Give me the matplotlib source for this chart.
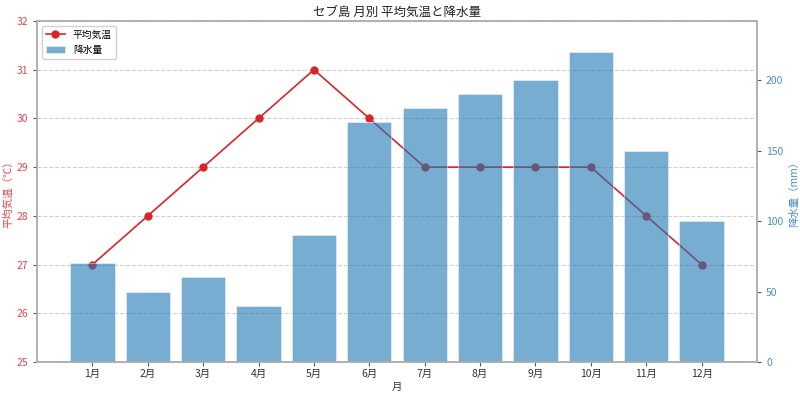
import matplotlib
matplotlib.use("Agg")
import matplotlib.pyplot as plt
import numpy as np

plt.rcParams['font.family'] = ['Noto Sans CJK JP', 'DejaVu Sans']

months = ['1月', '2月', '3月', '4月', '5月', '6月', '7月', '8月', '9月', '10月', '11月', '12月']
temp = [27, 28, 29, 30, 31, 30, 29, 29, 29, 29, 28, 27]
rain = [70, 50, 60, 40, 90, 170, 180, 190, 200, 220, 150, 100]

red = '#d62728'
blue = '#1f77b4'
spine_c = '#b0b0b0'

fig = plt.figure(figsize=(8, 3.97), dpi=100)
ax1 = fig.add_axes([37/800, 1-362/397, (757-37)/800, (362-21)/397])
x = np.arange(len(months))

l1, = ax1.plot(x, temp, color=red, marker='o', markersize=5, linewidth=1.2, label='平均気温')
ax1.set_ylim(25, 32)
ax1.set_xlim(-1, 12)
ax1.set_xticks(x)
ax1.set_xticklabels(months, fontsize=7.5, color='#333333')
ax1.set_xlabel('月', fontsize=7.5, color='#333333', labelpad=2)
ax1.set_ylabel('平均気温（℃）', fontsize=7.5, color='#e0474c', labelpad=2)
ax1.tick_params(axis='y', labelcolor='#e0474c', labelsize=7.5, color='#555555', length=3, width=0.8)
ax1.tick_params(axis='x', color='#555555', length=3, width=0.8, pad=2)
ax1.grid(axis='y', linestyle='--', color='#d0d0d0', linewidth=0.8)
ax1.set_axisbelow(True)

ax2 = ax1.twinx()
b = ax2.bar(x, rain, width=0.8, color=blue, alpha=0.6, edgecolor='white', linewidth=0.5, label='降水量')
ax2.set_ylim(0, max(rain) * 1.1)
ax2.set_ylabel('降水量（mm）', fontsize=7.5, color='#4a8cc2', labelpad=4)
ax2.tick_params(axis='y', labelcolor='#4a8cc2', labelsize=7.5, color='#555555', length=3, width=0.8)

for ax in (ax1, ax2):
    for s in ax.spines.values():
        s.set_color(spine_c)
        s.set_linewidth(1.2)

ax1.set_title('セブ島 月別 平均気温と降水量', fontsize=9, color='#222222', pad=4)

leg = ax2.legend([l1, b], ['平均気温', '降水量'], loc='upper left', fontsize=7, framealpha=0.9,
                 edgecolor='#cccccc', borderpad=0.4, handlelength=2.0)

fig.savefig('out.png', dpi=100)
